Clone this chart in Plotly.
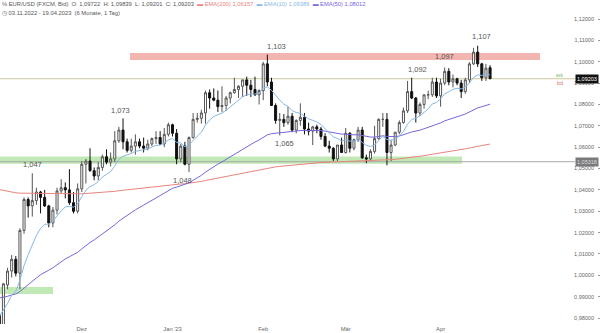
import plotly.graph_objects as go
import pandas as pd

# ---------------- data (EUR/USD daily, FXCM bid) ----------------
dates = pd.bdate_range("2022-11-03", "2023-04-19")

opens = [0.9815, 0.9750, 0.9955, 1.0020, 1.0075, 1.0010, 1.0210, 1.0355, 1.0325, 1.0350,
         1.0390, 1.0365, 1.0325, 1.0245, 1.0305, 1.0395, 1.0410, 1.0400, 1.0340, 1.0300,
         1.0405, 1.0520, 1.0535, 1.0490, 1.0465, 1.0505, 1.0555, 1.0530, 1.0545, 1.0630,
         1.0680, 1.0625, 1.0585, 1.0605, 1.0625, 1.0605, 1.0595, 1.0615, 1.0640, 1.0645,
         1.0615, 1.0660, 1.0705, 1.0665, 1.0545, 1.0605, 1.0520, 1.0645, 1.0730, 1.0735,
         1.0760, 1.0855, 1.0830, 1.0820, 1.0790, 1.0795, 1.0830, 1.0855, 1.0870, 1.0885,
         1.0915, 1.0890, 1.0870, 1.0845, 1.0865, 1.0990, 1.0905, 1.0795, 1.0725, 1.0730,
         1.0715, 1.0745, 1.0680, 1.0725, 1.0740, 1.0685, 1.0675, 1.0695, 1.0685, 1.0650,
         1.0605, 1.0595, 1.0545, 1.0610, 1.0575, 1.0665, 1.0595, 1.0635, 1.0680, 1.0550,
         1.0545, 1.0580, 1.0640, 1.0730, 1.0730, 1.0575, 1.0610, 1.0670, 1.0715, 1.0770,
         1.0860, 1.0830, 1.0760, 1.0800, 1.0845, 1.0845, 1.0905, 1.0840, 1.0900, 1.0955,
         1.0905, 1.0920, 1.0900, 1.0860, 1.0915, 1.0990, 1.1045, 1.0990, 1.0925, 1.09722]
highs = [0.9840, 0.9965, 1.0035, 1.0095, 1.0090, 1.0220, 1.0365, 1.0365, 1.0478, 1.0410,
         1.0395, 1.0400, 1.0330, 1.0320, 1.0410, 1.0450, 1.0435, 1.0497, 1.0390, 1.0430,
         1.0535, 1.0545, 1.0595, 1.0505, 1.0530, 1.0565, 1.0590, 1.0575, 1.0675, 1.0695,
         1.0735, 1.0640, 1.0640, 1.0660, 1.0640, 1.0645, 1.0635, 1.0645, 1.0675, 1.0675,
         1.0690, 1.0715, 1.0710, 1.0685, 1.0615, 1.0625, 1.0650, 1.0760, 1.0760, 1.0775,
         1.0865, 1.0870, 1.0875, 1.0865, 1.0885, 1.0840, 1.0860, 1.0925, 1.0890, 1.0915,
         1.0930, 1.0915, 1.0930, 1.0870, 1.1000, 1.1033, 1.0925, 1.0805, 1.0760, 1.0755,
         1.0790, 1.0760, 1.0730, 1.0805, 1.0760, 1.0715, 1.0700, 1.0705, 1.0695, 1.0665,
         1.0630, 1.0600, 1.0610, 1.0645, 1.0690, 1.0670, 1.0640, 1.0695, 1.0695, 1.0565,
         1.0590, 1.0700, 1.0735, 1.0760, 1.0760, 1.0635, 1.0670, 1.0725, 1.0785, 1.0910,
         1.0925, 1.0835, 1.0810, 1.0845, 1.0865, 1.0925, 1.0925, 1.0920, 1.0973, 1.0970,
         1.0940, 1.0925, 1.0915, 1.0925, 1.0998, 1.1065, 1.1075, 1.0995, 1.0990, 1.09839]
lows = [0.9730, 0.9745, 0.9935, 0.9990, 0.9995, 0.9935, 1.0195, 1.0270, 1.0275, 1.0330,
        1.0290, 1.0320, 1.0225, 1.0225, 1.0285, 1.0385, 1.0360, 1.0330, 1.0290, 1.0290,
        1.0390, 1.0430, 1.0485, 1.0445, 1.0445, 1.0490, 1.0520, 1.0510, 1.0530, 1.0620,
        1.0590, 1.0575, 1.0575, 1.0565, 1.0595, 1.0575, 1.0585, 1.0605, 1.0615, 1.0610,
        1.0600, 1.0650, 1.0650, 1.0520, 1.0530, 1.0515, 1.0483, 1.0640, 1.0715, 1.0710,
        1.0710, 1.0780, 1.0815, 1.0765, 1.0765, 1.0770, 1.0805, 1.0850, 1.0830, 1.0835,
        1.0840, 1.0835, 1.0840, 1.0800, 1.0820, 1.0885, 1.0795, 1.0710, 1.0655, 1.0695,
        1.0705, 1.0670, 1.0665, 1.0700, 1.0660, 1.0655, 1.0610, 1.0665, 1.0635, 1.0600,
        1.0575, 1.0535, 1.0535, 1.0575, 1.0570, 1.0575, 1.0585, 1.0625, 1.0545, 1.0525,
        1.0535, 1.0570, 1.0635, 1.0695, 1.0515, 1.0535, 1.0605, 1.0660, 1.0710, 1.0760,
        1.0825, 1.0715, 1.0745, 1.0780, 1.0825, 1.0835, 1.0830, 1.0790, 1.0890, 1.0890,
        1.0880, 1.0890, 1.0830, 1.0850, 1.0900, 1.0985, 1.0975, 1.0910, 1.0910, 1.09201]
closes = [0.9750, 0.9960, 1.0020, 1.0075, 1.0010, 1.0210, 1.0355, 1.0325, 1.0350, 1.0390,
          1.0365, 1.0325, 1.0245, 1.0305, 1.0395, 1.0410, 1.0400, 1.0340, 1.0300, 1.0405,
          1.0520, 1.0535, 1.0490, 1.0465, 1.0505, 1.0555, 1.0530, 1.0545, 1.0630, 1.0680,
          1.0625, 1.0585, 1.0605, 1.0625, 1.0605, 1.0595, 1.0615, 1.0640, 1.0645, 1.0615,
          1.0660, 1.0705, 1.0665, 1.0545, 1.0605, 1.0520, 1.0645, 1.0730, 1.0735, 1.0760,
          1.0855, 1.0830, 1.0820, 1.0790, 1.0795, 1.0830, 1.0855, 1.0870, 1.0885, 1.0915,
          1.0890, 1.0870, 1.0845, 1.0865, 1.0990, 1.0905, 1.0795, 1.0725, 1.0730, 1.0715,
          1.0745, 1.0680, 1.0725, 1.0740, 1.0685, 1.0675, 1.0695, 1.0685, 1.0650, 1.0605,
          1.0595, 1.0545, 1.0610, 1.0575, 1.0665, 1.0595, 1.0635, 1.0680, 1.0550, 1.0545,
          1.0580, 1.0640, 1.0730, 1.0730, 1.0575, 1.0610, 1.0670, 1.0715, 1.0770, 1.0860,
          1.0830, 1.0760, 1.0800, 1.0845, 1.0845, 1.0905, 1.0840, 1.0900, 1.0955, 1.0905,
          1.0920, 1.0900, 1.0860, 1.0915, 1.0990, 1.1045, 1.0990, 1.0925, 1.0970, 1.09203]

# EMA starting values (level of each average on the day before the first bar)
EMA10_SEED = 0.982
EMA50_SEED = 0.990
EMA200_SEED = 1.0408

# header values as printed on the chart
EMA200_TXT = "1,06157"
EMA10_TXT = "1,09386"
EMA50_TXT = "1,08012"
SUPPORT_LEVEL = 1.05318

month_ticks = ["2022-12-01", "2023-01-02", "2023-02-01", "2023-03-01", "2023-04-03"]
month_labels = ["Dez", "Jan '23", "Feb", "Mär", "Apr"]

# swing labels: (date, text, at high/low)
swing_labels = [("2022-11-15", "1,047", "high"), ("2022-12-15", "1,073", "high"),
                ("2023-01-06", "1,048", "low"), ("2023-02-02", "1,103", "high"),
                ("2023-02-07", "1,065", "low"), ("2023-03-23", "1,092", "high"),
                ("2023-04-04", "1,097", "high"), ("2023-04-14", "1,107", "high")]

# zones (price ranges)
resistance_zone = (1.1008, 1.1041)
support_zone = (1.0522, 1.0556)
low_zone = (0.9913, 0.9945)

# ---------------- helpers ----------------
assert len(dates) == len(closes)
idx = list(range(len(closes)))
date_pos = {d.strftime("%Y-%m-%d"): i for i, d in enumerate(dates)}


def ema(vals, period, seed):
    a = 2.0 / (period + 1)
    e = seed
    out = []
    for v in vals:
        e = e + a * (v - e)
        out.append(e)
    return out


def de(v, n=5):
    return f"{v:.{n}f}".replace(".", ",")


ema10 = ema(closes, 10, EMA10_SEED)
ema50 = ema(closes, 50, EMA50_SEED)
ema200 = ema(closes, 200, EMA200_SEED)

C_RED = "#e8857c"
C_BLUE = "#86b8e6"
C_PURPLE = "#7468dc"
FONT = "Liberation Sans, Arial, sans-serif"

fig = go.Figure()

fig.add_trace(go.Scatter(x=idx, y=ema200, mode="lines", line=dict(color=C_RED, width=1), hoverinfo="skip"))
fig.add_trace(go.Scatter(x=idx, y=ema50, mode="lines", line=dict(color=C_PURPLE, width=1), hoverinfo="skip"))
fig.add_trace(go.Scatter(x=idx, y=ema10, mode="lines", line=dict(color=C_BLUE, width=1), hoverinfo="skip"))

fig.add_trace(go.Candlestick(
    x=idx, open=opens, high=highs, low=lows, close=closes,
    increasing=dict(line=dict(color="#555555", width=1), fillcolor="#ffffff"),
    decreasing=dict(line=dict(color="#111111", width=1), fillcolor="#111111"),
    whiskerwidth=0, hoverinfo="skip"))

W = 597.0  # plot width in px
shapes = [
    dict(type="rect", xref="paper", yref="y", x0=130 / W, x1=540 / W, y0=resistance_zone[0], y1=resistance_zone[1],
         fillcolor="rgba(232,120,110,0.55)", line=dict(width=0), layer="below"),
    dict(type="rect", xref="paper", yref="y", x0=0, x1=462 / W, y0=support_zone[0], y1=support_zone[1],
         fillcolor="rgba(140,215,120,0.55)", line=dict(width=0), layer="below"),
    dict(type="rect", xref="paper", yref="y", x0=0, x1=53 / W, y0=low_zone[0], y1=low_zone[1],
         fillcolor="rgba(140,215,120,0.55)", line=dict(width=0), layer="below"),
    dict(type="line", xref="paper", yref="y", x0=0, x1=575 / W, y0=closes[-1], y1=closes[-1],
         line=dict(color="#c8c89c", width=1), layer="below"),
    dict(type="line", xref="paper", yref="y", x0=0, x1=575 / W, y0=SUPPORT_LEVEL, y1=SUPPORT_LEVEL,
         line=dict(color="#a8a8a8", width=1), layer="below"),
]

annotations = []
shift = {"1,047": (0, 2), "1,073": (-3, 1), "1,048": (-7, -2), "1,103": (9, 2),
         "1,065": (5, -2), "1,092": (6, 2), "1,097": (0, 4), "1,107": (4, 3)}
for d, txt, side in swing_labels:
    i = date_pos[d]
    yv = highs[i] if side == "high" else lows[i]
    xs, ys = shift[txt]
    annotations.append(dict(x=i, y=yv, xref="x", yref="y", text=txt, showarrow=False,
                            yanchor="bottom" if side == "high" else "top",
                            xshift=xs, yshift=ys, font=dict(size=7.5, color="#555555", family=FONT)))

hdr1 = (f"<span style='color:#555'>℅ EUR/USD (FXCM, Bid)  O: {de(opens[-1])}  H: {de(highs[-1])}  "
        f"L: {de(lows[-1])}  C: {de(closes[-1])}</span>  "
        f"<span style='color:{C_RED}'>▬ EMA(200) {EMA200_TXT}</span>  "
        f"<span style='color:{C_BLUE}'>▬ EMA(10) {EMA10_TXT}</span>  "
        f"<span style='color:{C_PURPLE}'>▬ EMA(50) {EMA50_TXT}</span>")
hdr2 = (f"◷ {dates[0].strftime('%d.%m.%Y')} - {dates[-1].strftime('%d.%m.%Y')}  (6 Monate, 1 Tag)")
annotations.append(dict(x=0, y=1, xref="paper", yref="paper", xanchor="left", yanchor="top", yshift=1,
                        text=hdr1, showarrow=False, align="left", font=dict(size=5.8, color="#555", family=FONT)))
annotations.append(dict(x=0, y=1, xref="paper", yref="paper", xanchor="left", yanchor="top", yshift=-8,
                        text=hdr2, showarrow=False, align="left", font=dict(size=5.8, color="#555", family=FONT)))

# price boxes at the right
annotations.append(dict(x=1, y=closes[-1], xref="paper", yref="y", xanchor="right", yanchor="middle", xshift=2,
                        text=de(closes[-1]), showarrow=False, bgcolor="#111111", borderpad=1,
                        font=dict(size=5.5, color="#ffffff", family=FONT)))
annotations.append(dict(x=1, y=SUPPORT_LEVEL, xref="paper", yref="y", xanchor="right", yanchor="middle", xshift=2,
                        text=de(SUPPORT_LEVEL), showarrow=False, bgcolor="#7a7a7a", borderpad=1,
                        font=dict(size=5.5, color="#dddddd", family=FONT)))
annotations.append(dict(x=566 / W, y=closes[-1], xref="paper", yref="y", xanchor="right", yanchor="bottom",
                        text="ask", showarrow=False, yshift=-1, font=dict(size=4.5, color="#7dbb6a", family=FONT)))
annotations.append(dict(x=566 / W, y=closes[-1], xref="paper", yref="y", xanchor="right", yanchor="top",
                        text="bid", showarrow=False, yshift=0, font=dict(size=4.5, color="#e07070", family=FONT)))

fig.update_layout(
    width=600, height=333, margin=dict(l=0, r=3, t=0, b=9),
    paper_bgcolor="white", plot_bgcolor="white", showlegend=False,
    separators=",.", shapes=shapes, annotations=annotations,
    xaxis=dict(range=[0.17, 0.17 + W / 4.124], showgrid=False, zeroline=False, showline=False,
               rangeslider=dict(visible=False),
               tickvals=[date_pos[d] for d in month_ticks], ticktext=month_labels, ticks="",
               tickfont=dict(size=5.8, color="#666", family=FONT)),
    yaxis=dict(side="right", range=[1.12 - 305 / 2136, 1.12 + 19 / 2136], dtick=0.01, tickformat=".5f",
               showgrid=False, zeroline=False, showline=False, ticks="outside", ticklen=3, tickcolor="#999",
               ticklabelposition="inside", tickfont=dict(size=5.5, color="#666", family=FONT)),
)

fig.write_html("out.html")
